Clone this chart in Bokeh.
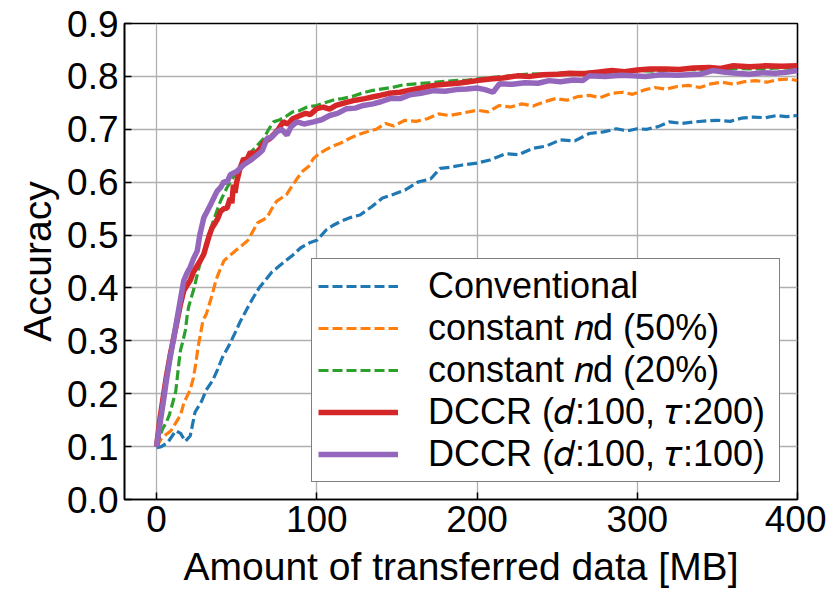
from bokeh.plotting import figure
from bokeh.models import Range1d, FixedTicker, PrintfTickFormatter, Legend, LegendItem
from bokeh.embed import file_html
from bokeh.resources import INLINE

# ---------------- data ----------------
x_ticks = [0, 100, 200, 300, 400]
y_ticks = [0.0, 0.1, 0.2, 0.3, 0.4, 0.5, 0.6, 0.7, 0.8, 0.9]

labels = [
    "Conventional",
    "constant 𝑛d (50%)",
    "constant 𝑛d (20%)",
    "DCCR (𝑑:100, 𝜏:200)",
    "DCCR (𝑑:100, 𝜏:100)",
]

conv_x = [0, 3, 7, 12, 15, 18, 21, 24, 28, 31, 35, 38, 41, 45, 49, 52, 56, 60, 64, 68, 72, 76, 80, 85,
          90, 96, 100, 106, 110, 115, 121, 127, 134, 141, 148, 155, 163, 171, 177, 183, 190, 200, 208,
          218, 226, 235, 243, 252, 261, 270, 279, 287, 294, 300, 306, 313, 320, 328, 336, 344, 350, 358,
          365, 372, 380, 387, 393, 400]
conv_y = [0.098, 0.10, 0.108, 0.13, 0.125, 0.11, 0.12, 0.165, 0.185, 0.207, 0.225, 0.245, 0.268, 0.29,
          0.315, 0.335, 0.358, 0.38, 0.40, 0.415, 0.43, 0.44, 0.45, 0.462, 0.476, 0.486, 0.49, 0.51, 0.518,
          0.526, 0.533, 0.538, 0.553, 0.57, 0.577, 0.585, 0.60, 0.606, 0.626, 0.628, 0.632, 0.636, 0.642,
          0.654, 0.652, 0.664, 0.668, 0.68, 0.678, 0.692, 0.695, 0.701, 0.697, 0.701, 0.700, 0.705, 0.714,
          0.711, 0.714, 0.716, 0.717, 0.715, 0.721, 0.723, 0.722, 0.726, 0.724, 0.726]

c50_x = [0, 3, 6, 9, 12, 15, 17, 19, 21, 23, 24.5, 26, 27.5, 29, 31, 33, 35, 37, 39, 42, 45, 48, 51, 54,
         57, 59, 61, 63, 66, 69, 72, 75, 78, 81, 84, 88, 91, 95, 98, 102, 106, 110, 115, 120, 126, 131,
         137, 143, 148, 155, 162, 169, 176, 183, 190, 200, 207, 214, 221, 228, 235, 242, 249, 256, 263,
         270, 277, 284, 291, 297, 304, 311, 318, 325, 332, 339, 346, 353, 360, 367, 374, 381, 388, 395, 400]
c50_y = [0.10, 0.115, 0.123, 0.13, 0.145, 0.16, 0.182, 0.195, 0.207, 0.23, 0.257, 0.29, 0.314, 0.339,
         0.35, 0.37, 0.39, 0.414, 0.43, 0.451, 0.46, 0.467, 0.475, 0.482, 0.49, 0.501, 0.512, 0.523, 0.528,
         0.533, 0.55, 0.564, 0.57, 0.576, 0.59, 0.608, 0.62, 0.63, 0.645, 0.655, 0.662, 0.668, 0.674, 0.682,
         0.69, 0.695, 0.70, 0.711, 0.706, 0.717, 0.715, 0.72, 0.729, 0.726, 0.73, 0.736, 0.733, 0.745,
         0.742, 0.748, 0.744, 0.752, 0.758, 0.755, 0.762, 0.764, 0.760, 0.768, 0.77, 0.766, 0.774, 0.779,
         0.776, 0.781, 0.783, 0.779, 0.786, 0.789, 0.785, 0.79, 0.792, 0.789, 0.794, 0.795, 0.792]

c20_x = [0, 2, 4, 6, 8, 10, 12, 13, 14, 15, 16.5, 18, 19, 20, 21.5, 23, 25, 27, 29.5, 32, 34, 37, 40, 44,
         48, 52, 56, 59, 63, 67, 70, 73, 77, 81, 85, 89, 94, 100, 105, 111, 116, 122, 128, 134, 140, 147,
         154, 162, 170, 178, 186, 194, 202, 210, 218, 226, 234, 242, 250, 260, 270, 280, 290, 300, 310,
         320, 330, 340, 350, 360, 370, 380, 390, 400]
c20_y = [0.10, 0.12, 0.135, 0.145, 0.16, 0.182, 0.205, 0.232, 0.26, 0.283, 0.30, 0.32, 0.345, 0.364,
         0.38, 0.395, 0.42, 0.445, 0.466, 0.495, 0.514, 0.54, 0.565, 0.59, 0.61, 0.63, 0.645, 0.657, 0.67,
         0.683, 0.70, 0.714, 0.718, 0.725, 0.733, 0.735, 0.742, 0.745, 0.75, 0.756, 0.758, 0.762, 0.768,
         0.773, 0.776, 0.779, 0.784, 0.786, 0.788, 0.79, 0.792, 0.793, 0.796, 0.798, 0.80, 0.803, 0.805,
         0.804, 0.806, 0.807, 0.808, 0.806, 0.81, 0.811, 0.81, 0.812, 0.813, 0.812, 0.814, 0.815, 0.814,
         0.815, 0.816, 0.815]

d200_x = [0, 2, 4, 6, 8.7, 11, 13, 15, 17, 19, 21, 23, 25, 27, 29.5, 31, 33, 34.7, 36, 38, 40, 42, 44,
          46, 47, 48, 49, 50, 52, 54.4, 56, 58.6, 60, 62.7, 65, 67, 71, 73, 76, 79, 82, 85, 89.6, 93, 96,
          100, 104, 108, 112, 118.6, 124, 130, 136, 139.5, 145, 152, 158, 165, 173, 180, 188, 195, 200,
          208, 216, 225, 233, 241, 250, 258, 266, 275, 284, 292, 300, 308, 318, 326, 335, 345, 352, 360,
          370, 380, 390, 400]
d200_y = [0.10, 0.15, 0.19, 0.23, 0.276, 0.31, 0.34, 0.37, 0.395, 0.405, 0.414, 0.43, 0.44, 0.45, 0.464,
          0.48, 0.50, 0.514, 0.52, 0.53, 0.545, 0.55, 0.551, 0.57, 0.56, 0.595, 0.58, 0.60, 0.625, 0.645,
          0.64, 0.657, 0.652, 0.657, 0.665, 0.675, 0.683, 0.69, 0.70, 0.714, 0.71, 0.72, 0.726, 0.73, 0.728,
          0.739, 0.742, 0.738, 0.745, 0.751, 0.755, 0.758, 0.762, 0.764, 0.768, 0.77, 0.774, 0.778, 0.783,
          0.785, 0.787, 0.79, 0.792, 0.795, 0.797, 0.801, 0.80, 0.803, 0.804, 0.806, 0.805, 0.808, 0.811,
          0.809, 0.812, 0.814, 0.814, 0.813, 0.816, 0.817, 0.815, 0.82, 0.818, 0.82, 0.819, 0.82]

d100_x = [0, 2, 4, 5.6, 8, 10.8, 13, 15, 17, 19, 21, 23, 25.4, 27, 29.5, 31.6, 33.6, 35.7, 37.8, 40, 42,
          44, 46, 50, 54.4, 58, 62.7, 66, 69, 72, 75, 78, 81.4, 84, 87.6, 92, 98, 103, 108, 113, 118.6, 124,
          129, 135, 140, 145.6, 152, 158, 165, 173, 180, 187, 193.6, 200, 205, 210, 214, 222, 230, 238, 245,
          252, 260, 266, 270, 280, 290, 297, 305, 315, 325, 339, 347, 355, 362, 370, 378, 386, 393, 400]
d100_y = [0.10, 0.14, 0.18, 0.214, 0.26, 0.307, 0.345, 0.38, 0.414, 0.428, 0.439, 0.455, 0.47, 0.50,
          0.533, 0.545, 0.557, 0.57, 0.583, 0.59, 0.601, 0.60, 0.614, 0.62, 0.633, 0.64, 0.651, 0.66, 0.683,
          0.685, 0.695, 0.70, 0.689, 0.705, 0.714, 0.71, 0.714, 0.718, 0.726, 0.73, 0.739, 0.74, 0.745,
          0.748, 0.752, 0.758, 0.758, 0.765, 0.768, 0.773, 0.772, 0.775, 0.776, 0.778, 0.775, 0.77, 0.786,
          0.785, 0.788, 0.787, 0.792, 0.79, 0.793, 0.792, 0.801, 0.80, 0.802, 0.801, 0.80, 0.803, 0.802,
          0.804, 0.811, 0.808, 0.806, 0.804, 0.807, 0.806, 0.808, 0.811]

colors = ["#1f77b4", "#ff7f0e", "#2ca02c", "#d62728", "#9467bd"]

# ---------------- figure ----------------
FONT = "Liberation Sans"

p = figure(width=826, height=590, output_backend="svg", toolbar_location=None,
           x_range=Range1d(-20, 400), y_range=Range1d(0, 0.9),
           min_border_left=124, min_border_right=29, min_border_top=23, min_border_bottom=87)
p.background_fill_color = "white"
p.border_fill_color = "white"
p.outline_line_color = "black"
p.outline_line_width = 1.6
p.outline_line_alpha = 1.0

series = [(conv_x, conv_y), (c50_x, c50_y), (c20_x, c20_y), (d200_x, d200_y), (d100_x, d100_y)]
renderers = []
for i, (xs, ys) in enumerate(series):
    if i < 3:
        r = p.line(xs, ys, line_color=colors[i], line_width=3.2, line_dash="10 4")
    else:
        r = p.line(xs, ys, line_color=colors[i], line_width=5.5)
    renderers.append(r)

legend = Legend(items=[LegendItem(label=labels[i], renderers=[renderers[i]]) for i in range(5)])
legend.location = "bottom_right"
legend.margin = 17
legend.padding = 6
legend.spacing = 0
legend.label_height = 40
legend.glyph_height = 40
legend.glyph_width = 80
legend.label_width = 345
legend.label_standoff = 30
legend.label_text_font = FONT
legend.label_text_font_size = "36px"
legend.label_text_color = "black"
legend.border_line_color = "black"
legend.border_line_width = 1.6
legend.background_fill_color = "white"
legend.background_fill_alpha = 1.0
p.add_layout(legend, "center")

for ax in (p.xaxis[0], p.yaxis[0]):
    ax.axis_line_color = "black"
    ax.axis_line_width = 1.6
    ax.major_tick_in = 7
    ax.major_tick_out = 0
    ax.major_tick_line_color = "black"
    ax.major_tick_line_width = 1.5
    ax.minor_tick_line_color = None
    ax.major_label_text_font = FONT
    ax.major_label_text_font_size = "37px"
    ax.major_label_text_color = "black"
    ax.axis_label_text_font = FONT
    ax.axis_label_text_font_size = "39px"
    ax.axis_label_text_font_style = "normal"
    ax.axis_label_text_color = "black"
    ax.major_label_standoff = 6

p.xaxis.ticker = FixedTicker(ticks=x_ticks)
p.yaxis.ticker = FixedTicker(ticks=y_ticks)
p.yaxis.formatter = PrintfTickFormatter(format="%.1f")
p.xaxis.axis_label = "Amount of transferred data [MB]"
p.yaxis.axis_label = "Accuracy"
p.xaxis.axis_label_standoff = 10
p.yaxis.axis_label_standoff = 5

p.xgrid.ticker = FixedTicker(ticks=x_ticks)
p.ygrid.ticker = FixedTicker(ticks=y_ticks)
p.grid.grid_line_color = "#b0b0b0"
p.grid.grid_line_width = 1.3

open("out.html", "w").write(file_html(p, INLINE))
